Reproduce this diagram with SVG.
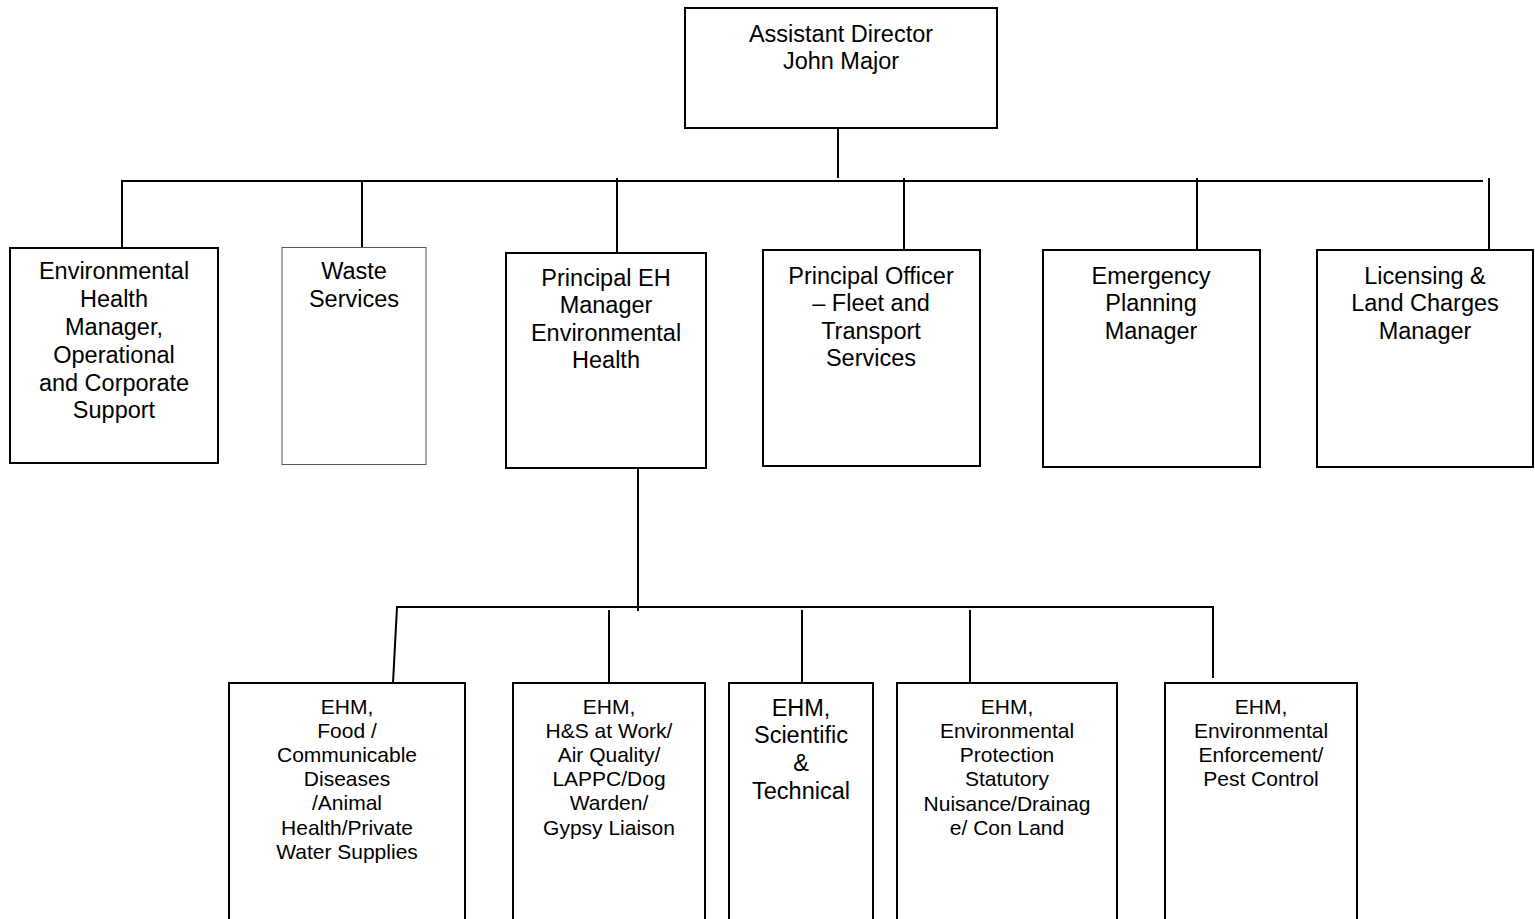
<svg xmlns="http://www.w3.org/2000/svg" width="1535" height="919" viewBox="0 0 1535 919">
<style>
.box{fill:#fff;stroke:#000;stroke-width:2}
.thin{fill:#fff;stroke:#555;stroke-width:1}
.ln{stroke:#000;stroke-width:2;fill:none}
text{font-family:"Liberation Sans",Arial,sans-serif;fill:#000;text-anchor:middle}
.t24{font-size:23.5px}
.t21{font-size:21px}
</style>
<rect width="1535" height="919" fill="#fff"/>
<g id="connectors">
<line class="ln" x1="838" y1="128" x2="838" y2="178"/>
<polyline class="ln" points="122,252 122,181 1483,181"/>
<line class="ln" x1="362" y1="181" x2="362" y2="248"/>
<line class="ln" x1="617" y1="178" x2="617" y2="253"/>
<line class="ln" x1="904" y1="178" x2="904" y2="250"/>
<line class="ln" x1="1197" y1="178" x2="1197" y2="250"/>
<line class="ln" x1="1489" y1="178" x2="1489" y2="250"/>
<line class="ln" x1="638" y1="468" x2="638" y2="611"/>
<polyline class="ln" points="393,683 397,607 1213,607 1213,678"/>
<line class="ln" x1="609" y1="610" x2="609" y2="683"/>
<line class="ln" x1="802" y1="610" x2="802" y2="683"/>
<line class="ln" x1="970" y1="610" x2="970" y2="683"/>
</g>
<g id="assistant-director">
<rect class="box" x="685" y="8" width="312" height="120"/>
<text class="t24" x="841" y="42">Assistant Director</text>
<text class="t24" x="841" y="69">John Major</text>
</g>
<g id="ehm-operational">
<rect class="box" x="10" y="248" width="208" height="215"/>
<text class="t24" x="114" y="279">Environmental</text>
<text class="t24" x="114" y="307">Health</text>
<text class="t24" x="114" y="335">Manager,</text>
<text class="t24" x="114" y="363">Operational</text>
<text class="t24" x="114" y="391">and Corporate</text>
<text class="t24" x="114" y="418">Support</text>
</g>
<g id="waste-services">
<rect class="thin" x="282" y="247.5" width="144" height="217"/>
<text class="t24" x="354" y="279">Waste</text>
<text class="t24" x="354" y="307">Services</text>
</g>
<g id="principal-eh">
<rect class="box" x="506" y="253" width="200" height="215"/>
<text class="t24" x="606" y="286">Principal EH</text>
<text class="t24" x="606" y="313">Manager</text>
<text class="t24" x="606" y="341">Environmental</text>
<text class="t24" x="606" y="368">Health</text>
</g>
<g id="principal-officer">
<rect class="box" x="763" y="250" width="217" height="216"/>
<text class="t24" x="871" y="284">Principal Officer</text>
<text class="t24" x="871" y="311">– Fleet and</text>
<text class="t24" x="871" y="339">Transport</text>
<text class="t24" x="871" y="366">Services</text>
</g>
<g id="emergency-planning">
<rect class="box" x="1043" y="250" width="217" height="217"/>
<text class="t24" x="1151" y="284">Emergency</text>
<text class="t24" x="1151" y="311">Planning</text>
<text class="t24" x="1151" y="339">Manager</text>
</g>
<g id="licensing">
<rect class="box" x="1317" y="250" width="216" height="217"/>
<text class="t24" x="1425" y="284">Licensing &amp;</text>
<text class="t24" x="1425" y="311">Land Charges</text>
<text class="t24" x="1425" y="339">Manager</text>
</g>
<g id="ehm-food">
<rect class="box" x="229" y="683" width="236" height="260"/>
<text class="t21" x="347" y="714">EHM,</text>
<text class="t21" x="347" y="738">Food /</text>
<text class="t21" x="347" y="762">Communicable</text>
<text class="t21" x="347" y="786">Diseases</text>
<text class="t21" x="347" y="810">/Animal</text>
<text class="t21" x="347" y="835">Health/Private</text>
<text class="t21" x="347" y="859">Water Supplies</text>
</g>
<g id="ehm-hs">
<rect class="box" x="513" y="683" width="192" height="260"/>
<text class="t21" x="609" y="714">EHM,</text>
<text class="t21" x="609" y="738">H&amp;S at Work/</text>
<text class="t21" x="609" y="762">Air Quality/</text>
<text class="t21" x="609" y="786">LAPPC/Dog</text>
<text class="t21" x="609" y="810">Warden/</text>
<text class="t21" x="609" y="835">Gypsy Liaison</text>
</g>
<g id="ehm-scientific">
<rect class="box" x="729" y="683" width="144" height="260"/>
<text class="t24" x="801" y="716">EHM,</text>
<text class="t24" x="801" y="743">Scientific</text>
<text class="t24" x="801" y="771">&amp;</text>
<text class="t24" x="801" y="799">Technical</text>
</g>
<g id="ehm-env-protection">
<rect class="box" x="897" y="683" width="220" height="260"/>
<text class="t21" x="1007" y="714">EHM,</text>
<text class="t21" x="1007" y="738">Environmental</text>
<text class="t21" x="1007" y="762">Protection</text>
<text class="t21" x="1007" y="786">Statutory</text>
<text class="t21" x="1007" y="811">Nuisance/Drainag</text>
<text class="t21" x="1007" y="835">e/ Con Land</text>
</g>
<g id="ehm-env-enforcement">
<rect class="box" x="1165" y="683" width="192" height="260"/>
<text class="t21" x="1261" y="714">EHM,</text>
<text class="t21" x="1261" y="738">Environmental</text>
<text class="t21" x="1261" y="762">Enforcement/</text>
<text class="t21" x="1261" y="786">Pest Control</text>
</g>
</svg>
